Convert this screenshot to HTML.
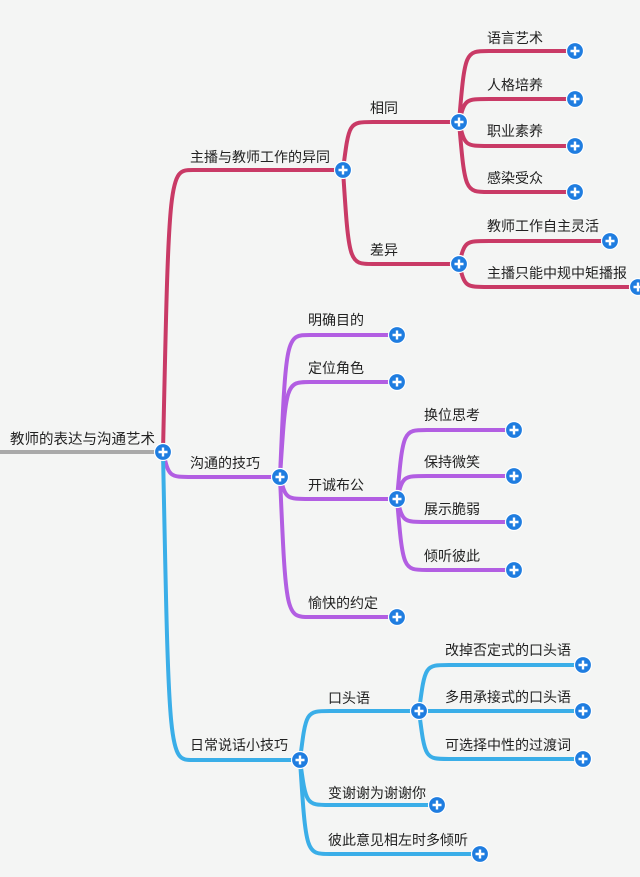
<!DOCTYPE html>
<html><head><meta charset="utf-8"><style>
html,body{margin:0;padding:0;background:#f4f5f4;}
svg{display:block}
text{font-family:"Liberation Sans","Noto Sans CJK SC",sans-serif;font-size:14px;fill:#222;}
</style></head><body>
<svg width="640" height="877" viewBox="0 0 640 877" xmlns="http://www.w3.org/2000/svg">
<defs>
<g id="p"><circle r="8.5" fill="#1f7de0" stroke="#fff" stroke-width="1.2"/><path d="M-4.5 0H4.5M0 -4.5V4.5" stroke="#fff" stroke-width="2.4"/></g>
</defs>
<rect width="640" height="877" fill="#f4f5f4"/>
<g fill="none" stroke-linecap="round">
<path d="M0 452 L163 452" stroke="#a9a9a9" stroke-width="4"/>
<g stroke="#c93a66" stroke-width="4">
<path d="M163 452 C169 170,169 170,193 170 L343 170"/>
<path d="M343 170 C349 122,349 122,373 122 L459 122"/>
<path d="M343 170 C349 264,349 264,373 264 L459 264"/>
<path d="M459 122 C465 51,465 51,489 51 L575 51"/>
<path d="M459 122 C465 99,465 99,489 99 L575 99"/>
<path d="M459 122 C465 146,465 146,489 146 L575 146"/>
<path d="M459 122 C465 192,465 192,489 192 L575 192"/>
<path d="M459 264 C465 241,465 241,489 241 L610 241"/>
<path d="M459 264 C465 287,465 287,489 287 L638 287"/>
</g>
<g stroke="#b25ee2" stroke-width="4">
<path d="M163 452 C169 477,169 477,193 477 L280 477"/>
<path d="M280 477 C286 335,286 335,310 335 L397 335"/>
<path d="M280 477 C286 382,286 382,310 382 L397 382"/>
<path d="M280 477 C286 499,286 499,310 499 L397 499"/>
<path d="M280 477 C286 617,286 617,310 617 L397 617"/>
<path d="M397 499 C403 430,403 430,427 430 L514 430"/>
<path d="M397 499 C403 476,403 476,427 476 L514 476"/>
<path d="M397 499 C403 522,403 522,427 522 L514 522"/>
<path d="M397 499 C403 570,403 570,427 570 L514 570"/>
</g>
<g stroke="#3aaee8" stroke-width="4">
<path d="M163 452 C169 760,169 760,193 760 L300 760"/>
<path d="M300 760 C306 711,306 711,330 711 L419 711"/>
<path d="M300 760 C306 805,306 805,330 805 L437 805"/>
<path d="M300 760 C306 854,306 854,330 854 L480 854"/>
<path d="M419 711 C425 665,425 665,449 665 L583 665"/>
<path d="M419 711 C425 711,425 711,449 711 L583 711"/>
<path d="M419 711 C425 759,425 759,449 759 L583 759"/>
</g>
</g>
<g>
<text x="10" y="444" style="font-size:14.5px">教师的表达与沟通艺术</text>
<text x="190" y="162">主播与教师工作的异同</text>
<text x="370" y="113">相同</text>
<text x="370" y="255">差异</text>
<text x="487" y="43">语言艺术</text>
<text x="487" y="90">人格培养</text>
<text x="487" y="136">职业素养</text>
<text x="487" y="183">感染受众</text>
<text x="487" y="231">教师工作自主灵活</text>
<text x="487" y="278">主播只能中规中矩播报</text>
<text x="190" y="468">沟通的技巧</text>
<text x="308" y="325">明确目的</text>
<text x="308" y="373">定位角色</text>
<text x="308" y="490">开诚布公</text>
<text x="308" y="608">愉快的约定</text>
<text x="424" y="420">换位思考</text>
<text x="424" y="467">保持微笑</text>
<text x="424" y="514">展示脆弱</text>
<text x="424" y="561">倾听彼此</text>
<text x="190" y="750">日常说话小技巧</text>
<text x="328" y="703">口头语</text>
<text x="328" y="798">变谢谢为谢谢你</text>
<text x="328" y="845">彼此意见相左时多倾听</text>
<text x="445" y="655">改掉否定式的口头语</text>
<text x="445" y="702">多用承接式的口头语</text>
<text x="445" y="750">可选择中性的过渡词</text>
</g>
<g>
<use href="#p" x="163" y="452"/>
<use href="#p" x="343" y="170"/>
<use href="#p" x="459" y="122"/>
<use href="#p" x="459" y="264"/>
<use href="#p" x="575" y="51"/>
<use href="#p" x="575" y="99"/>
<use href="#p" x="575" y="146"/>
<use href="#p" x="575" y="192"/>
<use href="#p" x="610" y="241"/>
<use href="#p" x="638" y="287"/>
<use href="#p" x="280" y="477"/>
<use href="#p" x="397" y="335"/>
<use href="#p" x="397" y="382"/>
<use href="#p" x="397" y="499"/>
<use href="#p" x="397" y="617"/>
<use href="#p" x="514" y="430"/>
<use href="#p" x="514" y="476"/>
<use href="#p" x="514" y="522"/>
<use href="#p" x="514" y="570"/>
<use href="#p" x="300" y="760"/>
<use href="#p" x="419" y="711"/>
<use href="#p" x="437" y="805"/>
<use href="#p" x="480" y="854"/>
<use href="#p" x="583" y="665"/>
<use href="#p" x="583" y="711"/>
<use href="#p" x="583" y="759"/>
</g>
</svg>
</body></html>
